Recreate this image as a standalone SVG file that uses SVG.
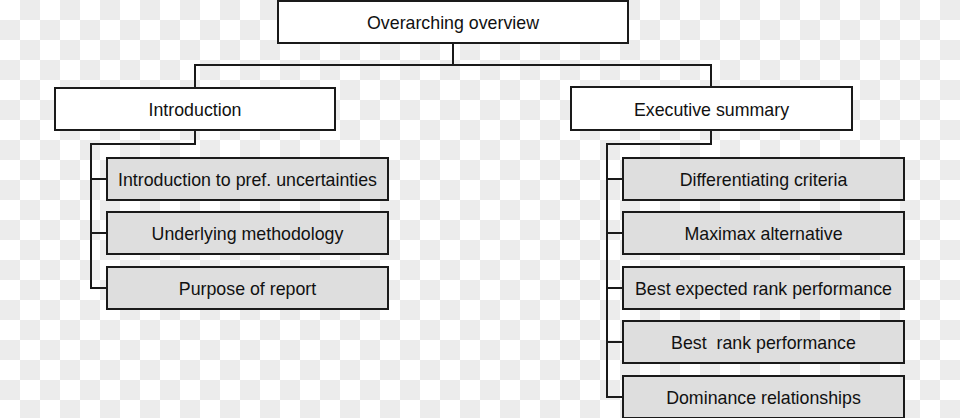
<svg xmlns="http://www.w3.org/2000/svg" width="960" height="418" viewBox="0 0 960 418">
<defs>
<pattern id="chk" width="40" height="40" patternUnits="userSpaceOnUse">
<rect width="40" height="40" fill="#ffffff"/>
<rect x="20" y="0" width="20" height="20" fill="#ececec"/>
<rect x="0" y="20" width="20" height="20" fill="#ececec"/>
</pattern>
<style>
.box{fill:#ffffff;stroke:#1a1a1a;stroke-width:2}
.sub{fill:#dedede;stroke:#1a1a1a;stroke-width:2}
.ln{fill:none;stroke:#1a1a1a;stroke-width:2}
text{font-family:"Liberation Sans",Arial,sans-serif;font-size:17.8px;fill:#111;text-anchor:middle}
</style>
</defs>
<rect width="960" height="418" fill="url(#chk)"/>
<g id="connectors">
<path class="ln" d="M453 43V65M195 88V65H711V87"/>
<path class="ln" d="M195 130V144H91V288H107M91 179H107M91 233H107"/>
<path class="ln" d="M711 130V144H607V397H623M607 179H623M607 233H623M607 288H623M607 342H623"/>
</g>
<g id="overview"><rect class="box" x="278" y="1" width="350" height="42"/><text x="453" y="29">Overarching overview</text></g>
<g id="introduction"><rect class="box" x="55" y="88" width="280" height="42"/><text x="195" y="116">Introduction</text></g>
<g id="executive"><rect class="box" x="571" y="87" width="281" height="43"/><text x="711.5" y="116">Executive summary</text></g>
<g id="intro1"><rect class="sub" x="107" y="158" width="281" height="42"/><text x="247.5" y="186">Introduction to pref. uncertainties</text></g>
<g id="intro2"><rect class="sub" x="107" y="212" width="281" height="42"/><text x="247.5" y="240">Underlying methodology</text></g>
<g id="intro3"><rect class="sub" x="107" y="267" width="281" height="42"/><text x="247.5" y="295">Purpose of report</text></g>
<g id="exec1"><rect class="sub" x="623" y="158" width="281" height="42"/><text x="763.5" y="186">Differentiating criteria</text></g>
<g id="exec2"><rect class="sub" x="623" y="212" width="281" height="42"/><text x="763.5" y="240">Maximax alternative</text></g>
<g id="exec3"><rect class="sub" x="623" y="267" width="281" height="42"/><text x="763.5" y="295">Best expected rank performance</text></g>
<g id="exec4"><rect class="sub" x="623" y="321" width="281" height="42"/><text x="763.5" y="349" xml:space="preserve" style="white-space:pre">Best  rank performance</text></g>
<g id="exec5"><rect class="sub" x="623" y="376" width="281" height="42"/><text x="763.5" y="404">Dominance relationships</text></g>
</svg>
